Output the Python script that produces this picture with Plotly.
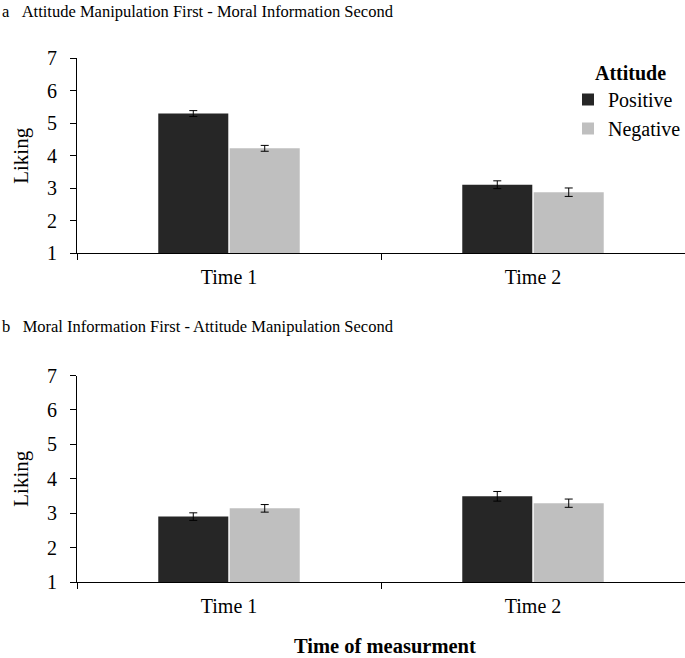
import plotly.graph_objects as go

categories = ["Time 1", "Time 2"]
series_names = ["Positive", "Negative"]

# Panel a: Attitude Manipulation First - Moral Information Second
a_positive = [5.30, 3.11]
a_negative = [4.23, 2.88]
a_positive_err = [0.09, 0.12]
a_negative_err = [0.09, 0.13]

# Panel b: Moral Information First - Attitude Manipulation Second
b_positive = [2.90, 3.49]
b_negative = [3.14, 3.29]
b_positive_err = [0.11, 0.14]
b_negative_err = [0.11, 0.12]

y_ticks = [1, 2, 3, 4, 5, 6, 7]

colors = {"Positive": "#262626", "Negative": "#bfbfbf"}
FONT = "Liberation Serif, Times New Roman, serif"

W, H = 685, 658

fig = go.Figure()

panels = [
    ("x", "y", a_positive, a_negative, a_positive_err, a_negative_err, True),
    ("x2", "y2", b_positive, b_negative, b_positive_err, b_negative_err, False),
]
for xa, ya, pos, neg, pe, ne, show in panels:
    for name, vals, errs in [("Positive", pos, pe), ("Negative", neg, ne)]:
        fig.add_trace(go.Bar(
            x=categories, y=[v - 1 for v in vals], base=1,
            name=name, legendgroup=name, showlegend=show,
            marker=dict(color=colors[name], line=dict(width=0)),
            error_y=dict(type="data", array=errs, visible=True,
                         color="black", thickness=1, width=4),
            xaxis=xa, yaxis=ya,
        ))

xdom = [77 / W, 1]
ydom_a = [1 - 253.3 / H, 1 - 58.3 / H]
ydom_b = [1 - 582 / H, 1 - 375.5 / H]

axis_common_x = dict(
    domain=xdom, showline=True, linecolor="black", linewidth=1,
    ticks="outside", ticklen=6, tickcolor="black", tickson="boundaries",
    showgrid=False, zeroline=False, automargin=False,
    tickfont=dict(family=FONT, size=20, color="black"),
    ticklabelstandoff=6,
)
axis_common_y = dict(
    range=[1, 7], tickvals=y_ticks, showline=True, linecolor="black",
    linewidth=1, ticks="outside", ticklen=6, tickcolor="black",
    showgrid=False, zeroline=False, automargin=False,
    tickfont=dict(family=FONT, size=20, color="black"),
    ticklabelstandoff=9,
    title=dict(text="Liking", font=dict(family=FONT, size=21, color="black"),
               standoff=12),
)

fig.update_layout(
    width=W, height=H,
    margin=dict(l=0, r=0, t=0, b=0, autoexpand=False),
    paper_bgcolor="white", plot_bgcolor="white",
    barmode="group", bargap=0.53, bargroupgap=0.02,
    xaxis=dict(anchor="y", **axis_common_x),
    yaxis=dict(domain=ydom_a, anchor="x", **axis_common_y),
    xaxis2=dict(anchor="y2", **axis_common_x),
    yaxis2=dict(domain=ydom_b, anchor="x2", **axis_common_y),
    legend=dict(
        title=dict(text="\u00a0\u00a0\u00a0\u00a0\u00a0<b>Attitude</b>",
                   font=dict(family=FONT, size=20, color="black")),
        font=dict(family=FONT, size=20, color="black"),
        x=568 / W, xanchor="left", y=1 - 54 / H, yanchor="top",
        bgcolor="rgba(0,0,0,0)", itemwidth=30, tracegroupgap=0,
    ),
    annotations=[
        dict(text="a\u00a0\u00a0\u00a0Attitude Manipulation First - Moral Information Second",
             x=0, y=1 - 11 / H, xref="paper", yref="paper",
             xanchor="left", yanchor="middle", showarrow=False,
             font=dict(family=FONT, size=16.5, color="black")),
        dict(text="b\u00a0\u00a0\u00a0Moral Information First - Attitude Manipulation Second",
             x=0, y=1 - 326 / H, xref="paper", yref="paper",
             xanchor="left", yanchor="middle", showarrow=False,
             font=dict(family=FONT, size=16.5, color="black")),
        dict(text="<b>Time of measurment</b>",
             x=385 / W, y=1 - 646 / H, xref="paper", yref="paper",
             xanchor="center", yanchor="middle", showarrow=False,
             font=dict(family=FONT, size=20.5, color="black")),
    ],
)

fig.write_html(
    "out.html",
    config={"displayModeBar": False},
    post_script="document.body.style.margin='0';document.body.style.padding='0';",
)
